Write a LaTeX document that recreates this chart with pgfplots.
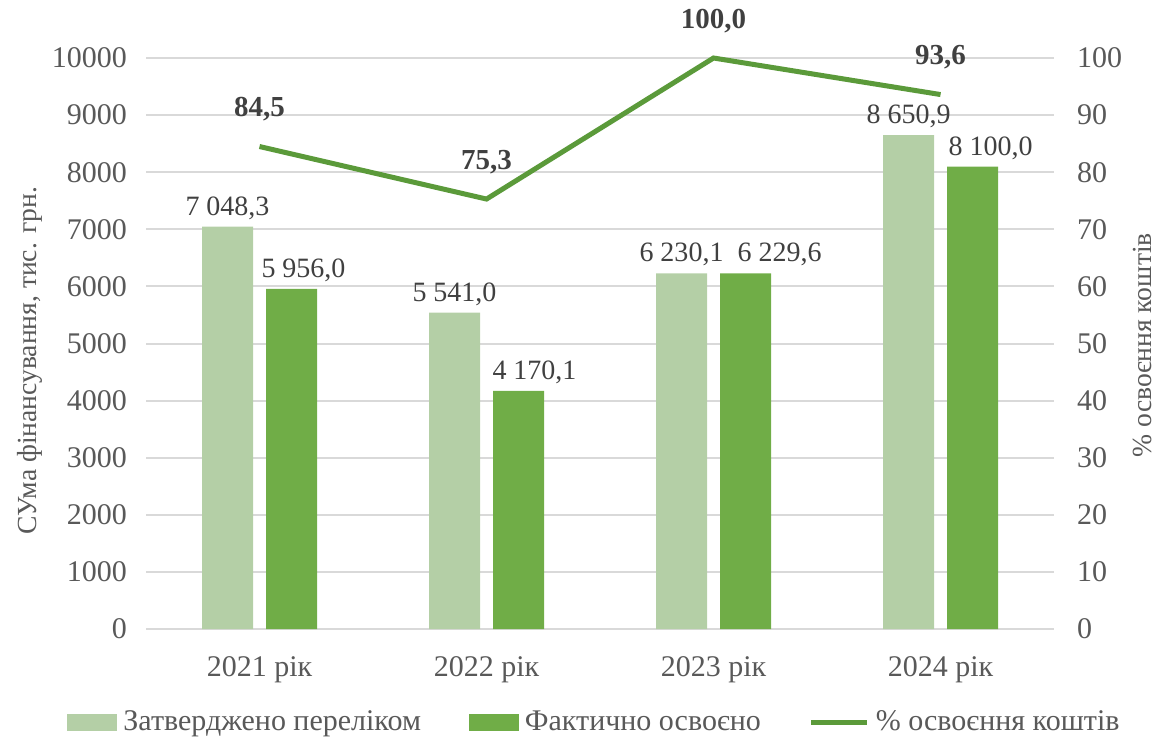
\documentclass[border=0pt]{standalone}
\usepackage{fontspec}
\setmainfont{Liberation Serif}
\usepackage{pgfplots}
\usepackage{pgfplotstable}
\pgfplotsset{compat=1.18}
\definecolor{planc}{HTML}{B4CFA6}
\definecolor{factc}{HTML}{70AD47}
\definecolor{linec}{HTML}{5B9A3A}
\definecolor{txt}{HTML}{595959}
\definecolor{lbl}{HTML}{404040}
\definecolor{gridc}{HTML}{D9D9D9}

% x: 0=2021 ... 3=2024; dxa/dxb = label shifts (pt)
\pgfplotstableread{
x plan dxa fact dxb pct
0 7048.3 0 5956.0 6 84.5
1 5541.0 0 4170.1 8 75.3
2 6230.1 0 6229.6 17 100.0
3 8650.9 0 8100.0 9 93.6
}\data

\tikzset{
  numfmt/.style={/pgf/number format/fixed, /pgf/number format/fixed zerofill,
    /pgf/number format/precision=1, /pgf/number format/use comma},
}
\pgfplotsset{
  base/.style={
    scale only axis, width=454pt, height=285.5pt,
    xmin=-0.5, xmax=3.5,
    axis line style={draw=none}, tick style={draw=none},
    /pgf/number format/assume math mode=true,
    ticklabel style={text=txt, font=\fontsize{15}{18}\selectfont},
    label style={text=txt, font=\fontsize{13.8}{16}\selectfont},
  },
}

\begin{document}
\begin{tikzpicture}
\begin{axis}[base,
  ymin=0, ymax=10000, ytick={0,1000,...,10000}, scaled y ticks=false,
  yticklabel style={/pgf/number format/1000 sep={}, xshift=-6pt},
  ymajorgrids, grid style={gridc, line width=1pt},
  xtick={0,1,2,3}, xticklabels={2021 рік,2022 рік,2023 рік,2024 рік},
  xticklabel style={yshift=-6pt},
  ylabel={СУма фінансування, тис. грн.},
  ylabel style={at={(axis description cs:-0.128,0.47)}, anchor=center},
  ybar=6.5pt, bar width=25.5pt,
  nodes near coords,
  every node near coord/.append style={text=lbl, font=\fontsize{14}{16}\selectfont,
    numfmt, /pgf/number format/1000 sep={\ }},
  legend style={at={(0.495,-0.163)}, anchor=center, draw=none, legend columns=3,
    font=\fontsize{15}{18}\selectfont, text=txt,
    /tikz/every odd column/.append style={column sep=1pt},
    /tikz/every even column/.append style={column sep=22pt}},
  legend image code/.code={\fill[#1] (0pt,-4.25pt) rectangle (25pt,4.25pt);},
]
\addplot[fill=planc, draw=none,
  visualization depends on={\thisrow{dxa} \as \shiftA},
  every node near coord/.append style={xshift=\shiftA pt}]
  table[x=x, y=plan] {\data};
\addlegendentry{Затверджено переліком}
\addplot[fill=factc, draw=none,
  visualization depends on={\thisrow{dxb} \as \shiftB},
  every node near coord/.append style={xshift=\shiftB pt}]
  table[x=x, y=fact] {\data};
\addlegendentry{Фактично освоєно}
\addlegendimage{legend image code/.code={\draw[linec, line width=2.5pt] (0pt,0pt) -- (28pt,0pt);}}
\addlegendentry{\% освоєння коштів}
\coordinate (bl) at (rel axis cs:-0.1608,-0.1909);
\coordinate (tr) at (rel axis cs:1.1189,1.1016);
\end{axis}
\begin{axis}[base,
  ymin=0, ymax=100, ytick={0,10,...,100},
  axis y line*=right, axis x line=none,
  yticklabel style={xshift=8pt},
  ylabel={\% освоєння коштів},
  ylabel style={at={(axis description cs:1.097,0.497)}, anchor=center},
  clip=false,
  nodes near coords,
  every node near coord/.append style={text=lbl, font=\fontsize{14.5}{17}\selectfont\bfseries,
    anchor=south, yshift=8pt, numfmt},
]
\addplot[linec, line width=2.5pt, mark=none] table[x=x, y=pct] {\data};
\end{axis}
\pgfresetboundingbox
\path (bl) rectangle (tr);
\end{tikzpicture}
\end{document}
